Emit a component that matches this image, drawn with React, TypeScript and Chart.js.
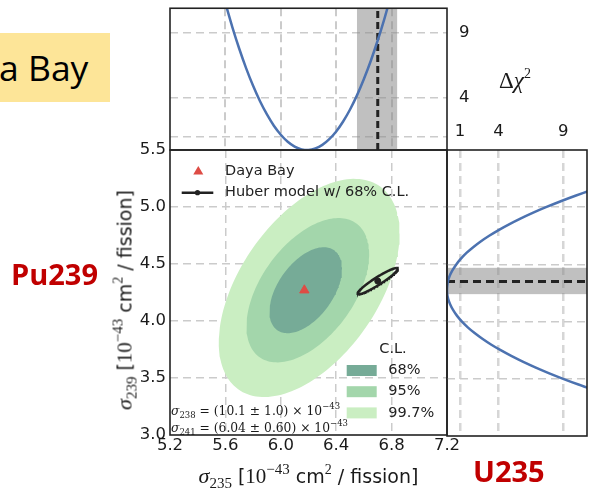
import React, { useEffect, useRef } from 'react';
import { Chart, registerables } from 'chart.js';

Chart.register(...registerables);

const W = 593;
const H = 493;

// ---------- axes ----------
const SIGMA235_TICKS = [5.2, 5.6, 6.0, 6.4, 6.8, 7.2];
const SIGMA239_TICKS = [3.0, 3.5, 4.0, 4.5, 5.0, 5.5];
const CHI2_TICKS = [1, 4, 9];
const CHI2_TOP_LABELS = [4, 9];
const CHI2_MAX = 10.85;

// ---------- Daya Bay best fit (σ235, σ239) ----------
const DAYA_BAY_BEST = [6.17, 4.27];

// ---------- Daya Bay confidence regions ----------
const CL_LABELS = ['68%', '95%', '99.7%'];
const CL_CENTER_235 = [6.18, 6.195, 6.205];
const CL_CENTER_239 = [4.27, 4.27, 4.29];
const CL_HALF_235 = [0.262, 0.443, 0.653];
const CL_HALF_239 = [0.377, 0.633, 0.957];
const CL_CORRELATION = [0.5, 0.5, 0.5];

// ---------- Huber model: low, central, high ----------
const HUBER_235 = [6.55, 6.7, 6.84];
const HUBER_239 = [4.24, 4.35, 4.47];
const HUBER_CORRELATION = 0.94;

// ---------- Δχ² profile in σ235 ----------
const PROFILE_235 = [5.6, 5.65, 5.7, 5.75, 5.8, 5.85, 5.9, 5.95, 6.0, 6.05, 6.1, 6.15, 6.2, 6.25, 6.3, 6.35, 6.4, 6.45, 6.5, 6.55, 6.6, 6.65, 6.7, 6.75, 6.8];
const PROFILE_235_CHI2 = [11.24, 9.41, 7.75, 6.25, 4.91, 3.73, 2.72, 1.86, 1.17, 0.63, 0.26, 0.05, 0.0, 0.12, 0.39, 0.83, 1.42, 2.18, 3.1, 4.18, 5.43, 6.83, 8.4, 10.12, 12.01];

// ---------- Δχ² profile in σ239 ----------
const PROFILE_239 = [3.4, 3.45, 3.5, 3.55, 3.6, 3.65, 3.7, 3.75, 3.8, 3.85, 3.9, 3.95, 4.0, 4.05, 4.1, 4.15, 4.2, 4.25, 4.3, 4.35, 4.4, 4.45, 4.5, 4.55, 4.6, 4.65, 4.7, 4.75, 4.8, 4.85, 4.9, 4.95, 5.0, 5.05, 5.1, 5.15];
const PROFILE_239_CHI2 = [11.46, 10.19, 9.0, 7.88, 6.84, 5.87, 4.98, 4.16, 3.41, 2.74, 2.14, 1.61, 1.16, 0.78, 0.48, 0.25, 0.09, 0.01, 0.01, 0.07, 0.21, 0.43, 0.72, 1.08, 1.51, 2.03, 2.61, 3.27, 4.0, 4.81, 5.69, 6.64, 7.67, 8.77, 9.95, 11.2];

// ---------- other isotopes held fixed ----------
const OTHER_ISOTOPES = ['238', '241'];
const OTHER_VALUES = ['10.1', '6.04'];
const OTHER_ERRORS = ['1.0', '0.60'];

// ---------- styling ----------
const SANS = '"DejaVu Sans", Verdana, sans-serif';
const SERIF = '"Liberation Serif", "DejaVu Serif", serif';
const WIDE_SERIF = '"DejaVu Serif", "Liberation Serif", serif';
const LABEL_FONT = '"Open Sans", "Liberation Sans", sans-serif';
const CL_COLORS = ['#76ab97', '#a3d6ab', '#caeec2'];
const CURVE = '#4c72b0';
const GRID = '#cbcbcb';
const DARK = '#222222';
const BAND = 'rgba(140,140,140,0.55)';
const MARKER = '#de4c45';
const RED_LABEL = '#c00000';
const TICK_FONT = { family: SANS, size: 16.5, lineHeight: 1 };

function ellipsePoints(cx: number, cy: number, hx: number, hy: number, rho: number, n = 160) {
  const s = Math.sqrt(1 - rho * rho);
  const pts: { x: number; y: number }[] = [];
  for (let i = 0; i <= n; i++) {
    const t = (2 * Math.PI * i) / n;
    pts.push({ x: cx + hx * Math.cos(t), y: cy + hy * (rho * Math.cos(t) + s * Math.sin(t)) });
  }
  return pts;
}

const setTicks = (values: number[]) => (scale: any) => {
  scale.ticks = values.map((v) => ({ value: v }));
};

const interiorGrid = (min: number, max: number, color: string) => (ctx: any) => {
  const v = ctx.tick ? ctx.tick.value : NaN;
  return v <= min + 1e-9 || v >= max - 1e-9 ? 'rgba(0,0,0,0)' : color;
};

// bands, frame and in-plot legends
function panelPlugin(opts: { vband?: number[]; hband?: number[]; legend?: boolean }) {
  return {
    id: 'panelDecor',
    beforeDatasetsDraw(chart: any) {
      const { ctx, chartArea: ca, scales } = chart;
      ctx.save();
      ctx.fillStyle = BAND;
      if (opts.vband) {
        const a = scales.x.getPixelForValue(opts.vband[0]);
        const b = scales.x.getPixelForValue(opts.vband[1]);
        ctx.fillRect(a, ca.top, b - a, ca.bottom - ca.top);
      }
      if (opts.hband) {
        const a = scales.y.getPixelForValue(opts.hband[1]);
        const b = scales.y.getPixelForValue(opts.hband[0]);
        ctx.fillRect(ca.left, a, ca.right - ca.left, b - a);
      }
      ctx.restore();
    },
    afterDatasetsDraw(chart: any) {
      const { ctx, chartArea: ca } = chart;
      ctx.save();
      ctx.strokeStyle = DARK;
      ctx.lineWidth = 1.6;
      ctx.setLineDash([]);
      ctx.strokeRect(ca.left, ca.top, ca.right - ca.left, ca.bottom - ca.top);
      if (opts.legend) {
        ctx.font = `14.5px ${SANS}`;
        ctx.textBaseline = 'middle';
        ctx.textAlign = 'left';
        // Daya Bay marker
        const tx = ca.left + 28.3;
        const ty = ca.top + 21.7;
        const r = 5.8;
        ctx.fillStyle = MARKER;
        ctx.beginPath();
        ctx.moveTo(tx, ty - r);
        ctx.lineTo(tx + 0.866 * r, ty + 0.5 * r);
        ctx.lineTo(tx - 0.866 * r, ty + 0.5 * r);
        ctx.closePath();
        ctx.fill();
        ctx.fillStyle = DARK;
        ctx.fillText('Daya Bay', ca.left + 55, ty);
        // Huber model line with centre dot
        const ly = ca.top + 42.7;
        ctx.strokeStyle = DARK;
        ctx.lineWidth = 2.5;
        ctx.beginPath();
        ctx.moveTo(ca.left + 11.7, ly);
        ctx.lineTo(ca.left + 43.3, ly);
        ctx.stroke();
        ctx.beginPath();
        ctx.arc(ca.left + 27.5, ly, 2.6, 0, Math.PI * 2);
        ctx.fill();
        ctx.fillText('Huber model w/ 68% C.L.', ca.left + 55, ly);
        // confidence-level legend
        ctx.textAlign = 'center';
        ctx.fillText('C.L.', ca.left + 223, ca.top + 199.3);
        ctx.textAlign = 'left';
        CL_LABELS.forEach((lab, i) => {
          const cy = ca.top + 220.5 + i * 21.2;
          ctx.fillStyle = CL_COLORS[i];
          ctx.fillRect(ca.left + 176.7, cy - 5.5, 30, 11);
          ctx.fillStyle = DARK;
          ctx.fillText(lab, ca.left + 218.3, cy);
        });
      }
      ctx.restore();
    },
  };
}

function mainConfig(): any {
  const contours = [2, 1, 0].map((i) => ({
    label: CL_LABELS[i],
    data: ellipsePoints(CL_CENTER_235[i], CL_CENTER_239[i], CL_HALF_235[i], CL_HALF_239[i], CL_CORRELATION[i]),
    backgroundColor: CL_COLORS[i],
    borderColor: 'rgba(0,0,0,0)',
    borderWidth: 0,
    fill: 'shape',
    pointRadius: 0,
    tension: 0,
    order: 10 + i,
  }));
  const huber = {
    label: 'Huber model',
    data: ellipsePoints(
      HUBER_235[1],
      HUBER_239[1],
      (HUBER_235[2] - HUBER_235[0]) / 2,
      (HUBER_239[2] - HUBER_239[0]) / 2,
      HUBER_CORRELATION
    ),
    borderColor: DARK,
    borderWidth: 2.5,
    fill: false,
    pointRadius: 0,
    tension: 0,
    order: 2,
  };
  const huberCentre = {
    label: 'Huber centre',
    data: [{ x: HUBER_235[1], y: HUBER_239[1] }],
    showLine: false,
    pointRadius: 3,
    pointBackgroundColor: DARK,
    pointBorderColor: DARK,
    pointBorderWidth: 1,
    order: 1,
  };
  const best = {
    label: 'Daya Bay',
    data: [{ x: DAYA_BAY_BEST[0], y: DAYA_BAY_BEST[1] }],
    showLine: false,
    pointStyle: 'triangle',
    pointRadius: 5.4,
    pointBackgroundColor: MARKER,
    pointBorderColor: MARKER,
    pointBorderWidth: 1,
    order: 0,
  };
  return {
    type: 'line',
    data: { datasets: [...contours, huber, huberCentre, best] },
    options: {
      responsive: false,
      animation: false,
      devicePixelRatio: 1,
      layout: { autoPadding: false, padding: { left: 110, right: 146, top: 150, bottom: 28 } },
      plugins: { legend: { display: false }, tooltip: { enabled: false } },
      scales: {
        x: {
          type: 'linear',
          position: 'bottom',
          min: 5.2,
          max: 7.2,
          afterBuildTicks: setTicks(SIGMA235_TICKS),
          afterFit: (s: any) => { s.height = 30; },
          ticks: { callback: (v: any) => Number(v).toFixed(1), font: TICK_FONT, color: '#1a1a1a', padding: 2, maxRotation: 0, autoSkip: false },
          grid: { color: interiorGrid(5.2, 7.2, GRID), lineWidth: 1.5, drawTicks: false },
          border: { display: false, dash: [8, 5] },
        },
        y: {
          type: 'linear',
          position: 'left',
          min: 3.0,
          max: 5.5,
          afterBuildTicks: setTicks(SIGMA239_TICKS),
          afterFit: (s: any) => { s.width = 60; },
          ticks: { callback: (v: any) => Number(v).toFixed(1), font: TICK_FONT, color: '#1a1a1a', padding: 4, autoSkip: false },
          grid: { color: interiorGrid(3.0, 5.5, GRID), lineWidth: 1.5, drawTicks: false },
          border: { display: false, dash: [8, 5] },
        },
      },
    },
    plugins: [panelPlugin({ legend: true })],
  };
}

function topConfig(): any {
  return {
    type: 'line',
    data: {
      datasets: [
        {
          label: 'Huber σ235',
          data: [{ x: HUBER_235[1], y: 0 }, { x: HUBER_235[1], y: CHI2_MAX }],
          borderColor: DARK,
          borderWidth: 3,
          borderDash: [7, 4],
          pointRadius: 0,
          fill: false,
          order: 1,
        },
        {
          label: 'Δχ² σ235',
          data: PROFILE_235.map((x, i) => ({ x, y: PROFILE_235_CHI2[i] })),
          borderColor: CURVE,
          borderWidth: 2.5,
          pointRadius: 0,
          tension: 0.3,
          fill: false,
          order: 0,
        },
      ],
    },
    options: {
      responsive: false,
      animation: false,
      devicePixelRatio: 1,
      layout: { autoPadding: false, padding: { left: 170, right: 106, top: 8, bottom: 343 } },
      plugins: { legend: { display: false }, tooltip: { enabled: false } },
      scales: {
        x: {
          type: 'linear',
          min: 5.2,
          max: 7.2,
          afterBuildTicks: setTicks(SIGMA235_TICKS),
          afterFit: (s: any) => { s.height = 0; },
          ticks: { display: false },
          grid: { color: interiorGrid(5.2, 7.2, GRID), lineWidth: 2, drawTicks: false },
          border: { display: false, dash: [8, 5] },
        },
        y: {
          type: 'linear',
          position: 'right',
          min: 0,
          max: CHI2_MAX,
          afterBuildTicks: setTicks(CHI2_TICKS),
          afterFit: (s: any) => { s.width = 40; },
          ticks: {
            callback: (v: any) => (CHI2_TOP_LABELS.includes(Number(v)) ? String(v) : ''),
            font: TICK_FONT,
            color: '#1a1a1a',
            padding: 0,
            autoSkip: false,
          },
          grid: { color: GRID, lineWidth: 1.5, drawTicks: true, tickLength: 12, tickColor: 'rgba(0,0,0,0)' },
          border: { display: false, dash: [8, 5] },
        },
      },
    },
    plugins: [panelPlugin({ vband: [HUBER_235[0], HUBER_235[2]] })],
  };
}

function sideConfig(): any {
  return {
    type: 'line',
    data: {
      datasets: [
        {
          label: 'Huber σ239',
          data: [{ x: 0, y: HUBER_239[1] }, { x: CHI2_MAX, y: HUBER_239[1] }],
          borderColor: DARK,
          borderWidth: 3,
          borderDash: [8, 5],
          pointRadius: 0,
          fill: false,
          order: 1,
        },
        {
          label: 'Δχ² σ239',
          data: PROFILE_239.map((y, i) => ({ x: PROFILE_239_CHI2[i], y })),
          borderColor: CURVE,
          borderWidth: 2.5,
          pointRadius: 0,
          tension: 0.3,
          fill: false,
          order: 0,
        },
      ],
    },
    options: {
      responsive: false,
      animation: false,
      devicePixelRatio: 1,
      layout: { autoPadding: false, padding: { left: 447, right: 6, top: 120, bottom: 57 } },
      plugins: { legend: { display: false }, tooltip: { enabled: false } },
      scales: {
        x: {
          type: 'linear',
          position: 'top',
          min: 0,
          max: CHI2_MAX,
          afterBuildTicks: setTicks(CHI2_TICKS),
          afterFit: (s: any) => { s.height = 30; },
          ticks: { callback: (v: any) => String(v), font: TICK_FONT, color: '#1a1a1a', padding: 10, autoSkip: false, maxRotation: 0 },
          grid: { color: '#d6d6d6', lineWidth: 2.5, drawTicks: false },
          border: { display: false, dash: [8, 5] },
        },
        y: {
          type: 'linear',
          position: 'left',
          min: 3.0,
          max: 5.5,
          afterBuildTicks: setTicks(SIGMA239_TICKS),
          afterFit: (s: any) => { s.width = 0; },
          ticks: { display: false },
          grid: { color: interiorGrid(3.0, 5.5, GRID), lineWidth: 1.5, drawTicks: false },
          border: { display: false, dash: [8, 5] },
        },
      },
    },
    plugins: [panelPlugin({ hband: [HUBER_239[0], HUBER_239[2]] })],
  };
}

const abs = (extra: React.CSSProperties): React.CSSProperties => ({ position: 'absolute', whiteSpace: 'nowrap', ...extra });

function AxisTitle({ iso }: { iso: string }) {
  return (
    <>
      <i style={{ fontFamily: SERIF, fontSize: 22 }}>σ</i>
      <span style={{ fontFamily: SERIF, fontSize: 15, verticalAlign: '-5px' }}>{iso}</span>
      {' ['}
      <span style={{ fontFamily: SERIF, fontSize: 21 }}>10</span>
      <span style={{ fontFamily: SERIF, fontSize: 15, verticalAlign: '9px' }}>−43</span>
      {' cm'}
      <span style={{ fontFamily: SERIF, fontSize: 14, verticalAlign: '9px' }}>2</span>
      {' / fission]'}
    </>
  );
}

export default function App() {
  const mainRef = useRef<HTMLCanvasElement>(null);
  const topRef = useRef<HTMLCanvasElement>(null);
  const sideRef = useRef<HTMLCanvasElement>(null);

  useEffect(() => {
    const charts = [
      new Chart(mainRef.current as HTMLCanvasElement, mainConfig()),
      new Chart(topRef.current as HTMLCanvasElement, topConfig()),
      new Chart(sideRef.current as HTMLCanvasElement, sideConfig()),
    ];
    return () => charts.forEach((c) => c.destroy());
  }, []);

  const canvasStyle: React.CSSProperties = { position: 'absolute', left: 0, top: 0, width: W, height: H };

  return (
    <div style={{ position: 'absolute', left: 0, top: 0, width: W, height: H, background: '#fff', overflow: 'hidden', color: '#1a1a1a' }}>
      <canvas ref={mainRef} width={W} height={H} style={canvasStyle} />
      <canvas ref={topRef} width={W} height={H} style={canvasStyle} />
      <canvas ref={sideRef} width={W} height={H} style={canvasStyle} />

      {/* experiment tag */}
      <div style={abs({ left: 0, top: 33, width: 110, height: 69, background: '#fde598' })} />
      <div style={abs({ left: -1, top: 43, fontFamily: LABEL_FONT, fontSize: 35.5, lineHeight: '48px', color: '#000' })}>a Bay</div>

      {/* isotope tags */}
      <div style={abs({ left: 11, top: 256, fontFamily: LABEL_FONT, fontWeight: 700, fontSize: 29, lineHeight: '36px', color: RED_LABEL })}>Pu239</div>
      <div style={abs({ left: 473, top: 453, fontFamily: LABEL_FONT, fontWeight: 700, fontSize: 29, lineHeight: '36px', color: RED_LABEL })}>U235</div>

      {/* Δχ² axis label */}
      <div style={abs({ left: 499, top: 59, fontFamily: SERIF, fontSize: 23, lineHeight: '30px' })}>
        Δ<i>χ</i>
        <span style={{ fontSize: 14, verticalAlign: '10px' }}>2</span>
      </div>

      {/* axis titles */}
      <div style={abs({ left: 170, width: 277, top: 455, textAlign: 'center', fontFamily: SANS, fontSize: 19, lineHeight: '28px' })}>
        <AxisTitle iso="235" />
      </div>
      <div
        style={abs({
          left: 124 - 142.5,
          top: 292.5 - 14,
          width: 285,
          textAlign: 'center',
          fontFamily: SANS,
          fontSize: 19,
          lineHeight: '28px',
          transform: 'rotate(-90deg)',
          transformOrigin: '50% 50%',
        })}
      >
        <AxisTitle iso="239" />
      </div>

      {/* fixed cross sections of the other isotopes */}
      {OTHER_ISOTOPES.map((iso, i) => (
        <div key={iso} style={abs({ left: 171, top: 398 + i * 17, fontFamily: WIDE_SERIF, fontSize: 12.3, lineHeight: '17px' })}>
          <i>σ</i>
          <span style={{ fontSize: 8.5, verticalAlign: '-3px' }}>{iso}</span>
          {` = (${OTHER_VALUES[i]} ± ${OTHER_ERRORS[i]}) × 10`}
          <span style={{ fontSize: 8.5, verticalAlign: '6px' }}>−43</span>
        </div>
      ))}
    </div>
  );
}
